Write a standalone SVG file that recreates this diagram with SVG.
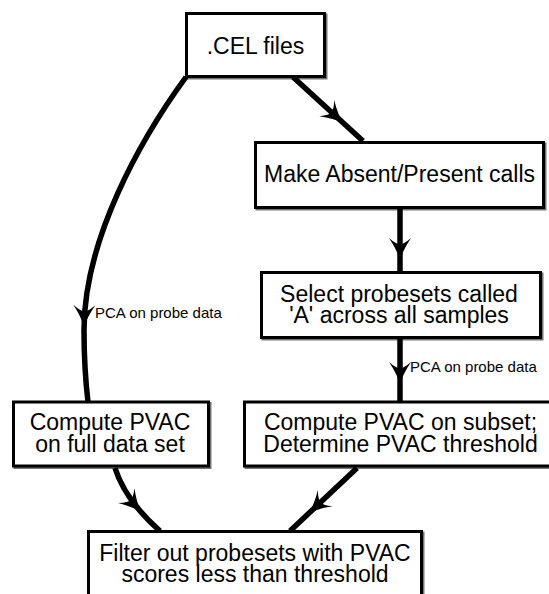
<svg xmlns="http://www.w3.org/2000/svg" xmlns:xlink="http://www.w3.org/1999/xlink" width="549" height="594" viewBox="0 0 549 594">
<style>
.box{fill:#fff;stroke:#000;stroke-width:3}
.shadow{fill:none;stroke:#000;stroke-width:3;opacity:0.55}
.t{font-family:"Liberation Sans",Arial,Helvetica,sans-serif;font-size:23px;fill:#000;text-anchor:middle}
.lbl{font-family:"Liberation Sans",Arial,Helvetica,sans-serif;font-size:15px;fill:#000}
.edge{fill:none;stroke:#000;stroke-width:5.5;stroke-linecap:butt}
</style>
<defs>
<path id="ah" d="M0,0 Q-10,-3 -22,-11 Q-15,-3 -16,0 Q-15,3 -22,11 Q-10,3 0,0 Z" fill="#000"/>
</defs>
<rect width="549" height="594" fill="#fff"/>
<g id="connectors">
<path class="edge" d="M293,77 L363,141"/>
<use xlink:href="#ah" transform="translate(343,123) rotate(42.4)"/>
<path class="edge" d="M186,77 C140,140 84,240 84,330 C84,360 86,385 88,402"/>
<use xlink:href="#ah" transform="translate(84,327) rotate(91)"/>
<path class="edge" d="M400,208 L400,272"/>
<use xlink:href="#ah" transform="translate(400,260) rotate(90)"/>
<path class="edge" d="M400,338 L400,402"/>
<use xlink:href="#ah" transform="translate(400,384) rotate(90)"/>
<path class="edge" d="M115,468 Q125,500 160,531"/>
<use xlink:href="#ah" transform="translate(141,512) rotate(48)"/>
<path class="edge" d="M357,468 L290,531"/>
<use xlink:href="#ah" transform="translate(309,513) rotate(137.7)"/>
<text class="lbl" x="95" y="318">PCA on probe data</text>
<text class="lbl" x="410" y="372">PCA on probe data</text>
</g>
<g id="cel">
<rect class="shadow" x="188" y="15" width="138" height="63"/>
<rect class="box" x="186.5" y="13.5" width="138" height="63"/>
<text class="t" x="255.5" y="54">.CEL files</text>
</g>
<g id="absent">
<rect class="shadow" x="257" y="144" width="288" height="65"/>
<rect class="box" x="255.5" y="142.5" width="288" height="65"/>
<text class="t" x="399.5" y="182">Make Absent/Present calls</text>
</g>
<g id="select">
<rect class="shadow" x="263" y="274" width="279" height="65"/>
<rect class="box" x="261.5" y="272.5" width="279" height="65"/>
<text class="t" x="399" y="302">Select probesets called</text>
<text class="t" x="399" y="323">'A' across all samples</text>
</g>
<g id="pvacfull">
<rect class="shadow" x="15" y="403.5" width="195" height="64"/>
<rect class="box" x="13.5" y="402" width="195" height="64"/>
<text class="t" x="110" y="430">Compute PVAC</text>
<text class="t" x="110" y="452">on full data set</text>
</g>
<g id="pvacsubset">
<rect class="shadow" x="246" y="403.5" width="320" height="64"/>
<rect class="box" x="244.5" y="402" width="320" height="64"/>
<text class="t" x="400.5" y="430">Compute PVAC on subset;</text>
<text class="t" x="400.5" y="452">Determine PVAC threshold</text>
</g>
<g id="filter">
<rect class="shadow" x="90" y="533" width="333" height="80"/>
<rect class="box" x="88.5" y="531.5" width="333" height="80"/>
<text class="t" x="255" y="561">Filter out probesets with PVAC</text>
<text class="t" x="255" y="582">scores less than threshold</text>
</g>
</svg>
